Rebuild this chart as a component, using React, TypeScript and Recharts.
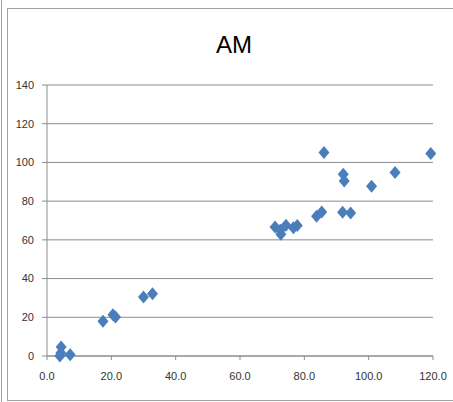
import { ScatterChart, Scatter, XAxis, YAxis, CartesianGrid } from 'recharts';

// AM readings
const xValues = [4.0, 4.3, 4.4, 7.2, 17.4, 20.5, 21.3, 30.0, 32.8,
  70.9, 72.5, 72.7, 74.3, 76.6, 77.8, 83.8, 85.4, 86.1, 92.1, 92.4, 91.9, 94.4, 100.9, 108.2, 119.3];
const yValues = [0, 1.5, 4.6, 0.6, 18.0, 21.3, 20.1, 30.5, 32.2,
  66.6, 65.0, 62.9, 67.5, 66.3, 67.4, 72.2, 74.4, 105.1, 93.9, 90.4, 74.2, 73.9, 87.7, 94.8, 104.6];
const xTicks = [0, 20, 40, 60, 80, 100, 120];
const yTicks = [0, 20, 40, 60, 80, 100, 120, 140];

const points = xValues.map((x, i) => ({ x, y: yValues[i] }));

const Diamond = (props: any) => {
  const { cx, cy } = props;
  const w = 5.5, h = 6.5;
  return (
    <polygon
      points={`${cx},${cy - h} ${cx + w},${cy} ${cx},${cy + h} ${cx - w},${cy}`}
      fill="#4A7EBB"
    />
  );
};

const tickStyle = { fontSize: 11, fill: '#333', fontFamily: 'Liberation Sans, Arial, sans-serif' };

export default function App() {
  return (
    <div style={{ position: 'fixed', left: 0, top: 0, width: 453, height: 402, background: '#fff', overflow: 'hidden' }}>
      <div style={{ position: 'absolute', left: 0, top: 0 }}>
        <ScatterChart width={453} height={402} margin={{ top: 85, right: 20, bottom: 16, left: 7 }}>
          <CartesianGrid horizontal vertical={false} stroke="#8c8c8c" />
          <XAxis
            type="number"
            dataKey="x"
            domain={[0, 120]}
            ticks={xTicks}
            tickFormatter={(v: number) => v.toFixed(1)}
            axisLine={{ stroke: '#8c8c8c' }}
            tickLine={{ stroke: '#8c8c8c' }}
            tickSize={4}
            tickMargin={12}
            height={30}
            tick={tickStyle}
            interval={0}
          />
          <YAxis
            type="number"
            dataKey="y"
            domain={[0, 140]}
            ticks={yTicks}
            axisLine={{ stroke: '#8c8c8c' }}
            tickLine={{ stroke: '#8c8c8c' }}
            tickSize={5}
            tickMargin={8}
            width={40}
            tick={tickStyle}
            interval={0}
          />
          <Scatter data={points} shape={Diamond} isAnimationActive={false} />
        </ScatterChart>
      </div>
      <div style={{
        position: 'absolute', left: 0, width: 468, top: 31, textAlign: 'center',
        fontFamily: 'Liberation Sans, Arial, sans-serif', fontSize: 24, color: '#000'
      }}>AM</div>
      {/* frame lines */}
      <div style={{ position: 'absolute', left: 1, top: 0, width: 1, height: 402, background: '#a0a0a0', pointerEvents: 'none' }} />
      <div style={{
        position: 'absolute', left: 7, top: 8, width: 460, height: 391, pointerEvents: 'none',
        borderLeft: '1px solid #a0a0a0', borderTop: '1px solid #a0a0a0', borderBottom: '1px solid #a0a0a0'
      }} />
    </div>
  );
}
